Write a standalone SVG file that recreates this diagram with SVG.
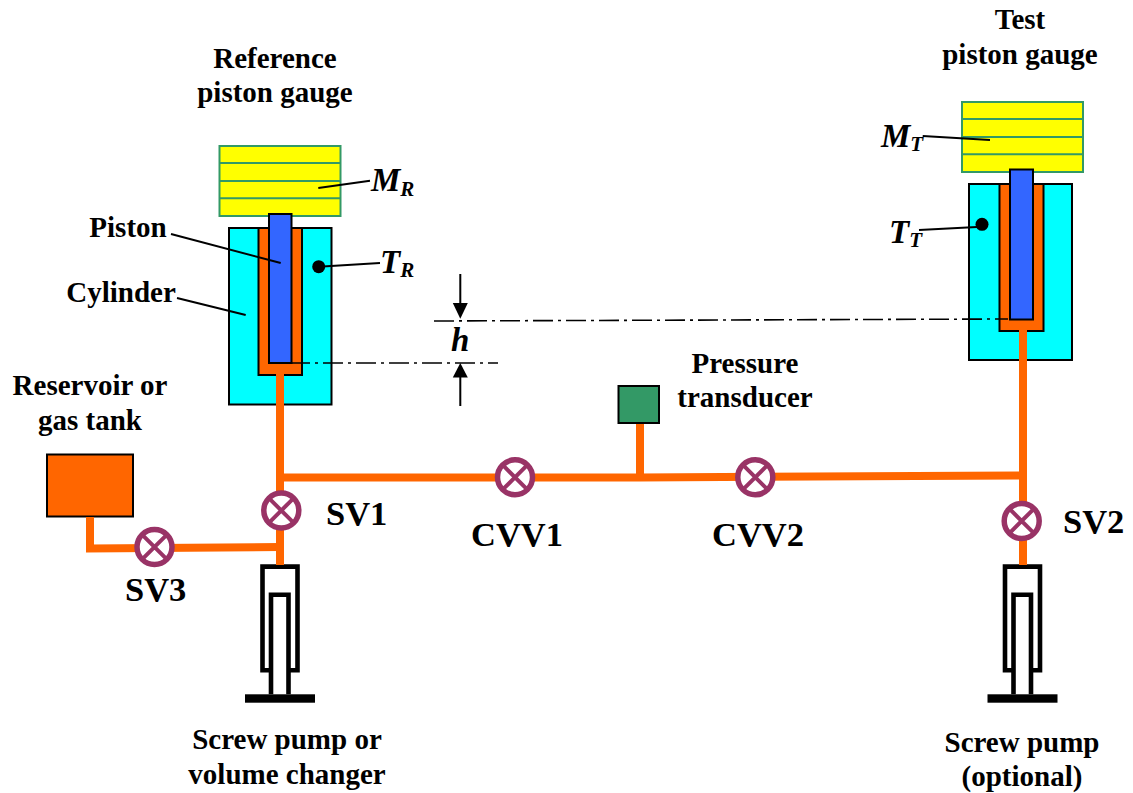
<svg xmlns="http://www.w3.org/2000/svg" width="1133" height="793" viewBox="0 0 1133 793">
<style>
text{font-family:"Liberation Serif","Times New Roman",serif;font-weight:bold;fill:#000}
.l{font-size:29px;text-anchor:middle}
.v{font-size:34.5px}
.s{font-size:33px;font-style:italic}
.sub{font-size:21px}
.pipe{fill:none;stroke:#f60;stroke-width:8}
.wt{fill:#ff0;stroke:#396;stroke-width:2}
.wl{stroke:#396;stroke-width:2}
.k{fill:none;stroke:#000;stroke-width:2}
.cy{fill:#0ff;stroke:#000;stroke-width:2}
.or{fill:#f60;stroke:#000;stroke-width:2}
.pi{fill:#36f;stroke:#000;stroke-width:2}
.dd{fill:none;stroke:#000;stroke-width:1.6;stroke-dasharray:20 5 3 5}
.vb{fill:#fff;stroke:#936;stroke-width:5.5}
.vx{stroke:#936;stroke-width:4}
.pm{fill:none;stroke:#000;stroke-width:4.6}
</style>
<defs>
<g id="valve"><circle r="17.5" class="vb"/><path class="vx" d="M-12.4-12.4L12.4 12.4M12.4-12.4L-12.4 12.4"/></g>
<g id="pump"><path class="pm" d="M-9.5 106H-17.5V2.3H17.5V106H9.5"/><path class="pm" d="M-9 130V30.5H8.5V130"/><rect x="-35" y="130" width="70" height="8.4"/></g>
</defs>

<g id="pump-left"><use href="#pump" x="280" y="564.3"/></g>
<g id="pump-right"><use href="#pump" x="1022.5" y="564.3"/></g>

<g id="reference-gauge">
<rect class="wt" x="219.5" y="146" width="121" height="70"/>
<path class="wl" d="M219.5 163H340.5M219.5 181H340.5M219.5 198.3H340.5"/>
<rect class="cy" x="229" y="228" width="102.5" height="176.5"/>
<rect class="or" x="258.5" y="228" width="43.5" height="147"/>
<rect class="pi" x="269" y="214" width="22.5" height="149"/>
<circle cx="318.7" cy="266.7" r="6.5"/>
</g>

<g id="test-gauge">
<rect class="wt" x="962" y="102" width="121" height="70"/>
<path class="wl" d="M962 119H1083M962 137H1083M962 154.3H1083"/>
<rect class="cy" x="969" y="184" width="103" height="176"/>
<rect class="or" x="999.5" y="184" width="44" height="147"/>
<rect class="pi" x="1010" y="169.5" width="23" height="150"/>
<circle cx="982" cy="224.3" r="6.5"/>
</g>

<g id="tank"><rect class="or" x="47" y="454.5" width="86" height="62"/></g>
<g id="transducer"><rect x="618.5" y="386" width="40.5" height="37" fill="#396" stroke="#000" stroke-width="2"/></g>

<g id="connectors">
<path class="pipe" d="M280 374V565"/>
<path class="pipe" d="M280 477.5L640 477.5L1023 475.5"/>
<path class="pipe" d="M1023 330V565"/>
<path class="pipe" d="M640 424V477"/>
<path class="pipe" d="M90 517V548.5L280 547"/>
<path class="dd" d="M434 321L1008 319"/>
<path class="dd" d="M290 363H498"/>
<path class="k" d="M460.3 274V305M460.3 377V406"/>
<path d="M452.8 303H467.8L460.3 318.7Z"/>
<path d="M452.8 377.5H467.8L460.3 363Z"/>
<path class="k" d="M171 234L280.7 263M177 298L245.7 315M318.3 188L370 180.7M318.7 266.7L380 263M922.7 136L990 140M919 230L981.7 226.7"/>
</g>

<g id="sv1"><use href="#valve" x="281.3" y="510.5"/></g>
<g id="sv2"><use href="#valve" x="1021.7" y="521"/></g>
<g id="sv3"><use href="#valve" x="154.5" y="547"/></g>
<g id="cvv1"><use href="#valve" x="515" y="477.3"/></g>
<g id="cvv2"><use href="#valve" x="755.3" y="477.3"/></g>

<g id="labels">
<text class="l" x="275" y="68">Reference</text>
<text class="l" x="275" y="102">piston gauge</text>
<text class="l" x="1020" y="29">Test</text>
<text class="l" x="1020" y="64">piston gauge</text>
<text class="l" x="128" y="237">Piston</text>
<text class="l" x="121" y="302">Cylinder</text>
<text class="l" x="90" y="395">Reservoir or</text>
<text class="l" x="90" y="430">gas tank</text>
<text class="l" x="745" y="373">Pressure</text>
<text class="l" x="745" y="407">transducer</text>
<text class="l" x="287" y="749">Screw pump or</text>
<text class="l" x="287" y="784">volume changer</text>
<text class="l" x="1022" y="752">Screw pump</text>
<text class="l" x="1022" y="786">(optional)</text>
<text class="v" x="326" y="525">SV1</text>
<text class="v" x="1063" y="533">SV2</text>
<text class="v" x="125" y="601">SV3</text>
<text class="v" x="471" y="546">CVV1</text>
<text class="v" x="712" y="546">CVV2</text>
<text class="s" x="371" y="191">M<tspan class="sub" dy="5">R</tspan></text>
<text class="s" x="380" y="273">T<tspan class="sub" dy="4">R</tspan></text>
<text class="s" x="881" y="147">M<tspan class="sub" dy="4">T</tspan></text>
<text class="s" x="889" y="243">T<tspan class="sub" dy="4">T</tspan></text>
<text class="s" x="451" y="351">h</text>
</g>
</svg>
